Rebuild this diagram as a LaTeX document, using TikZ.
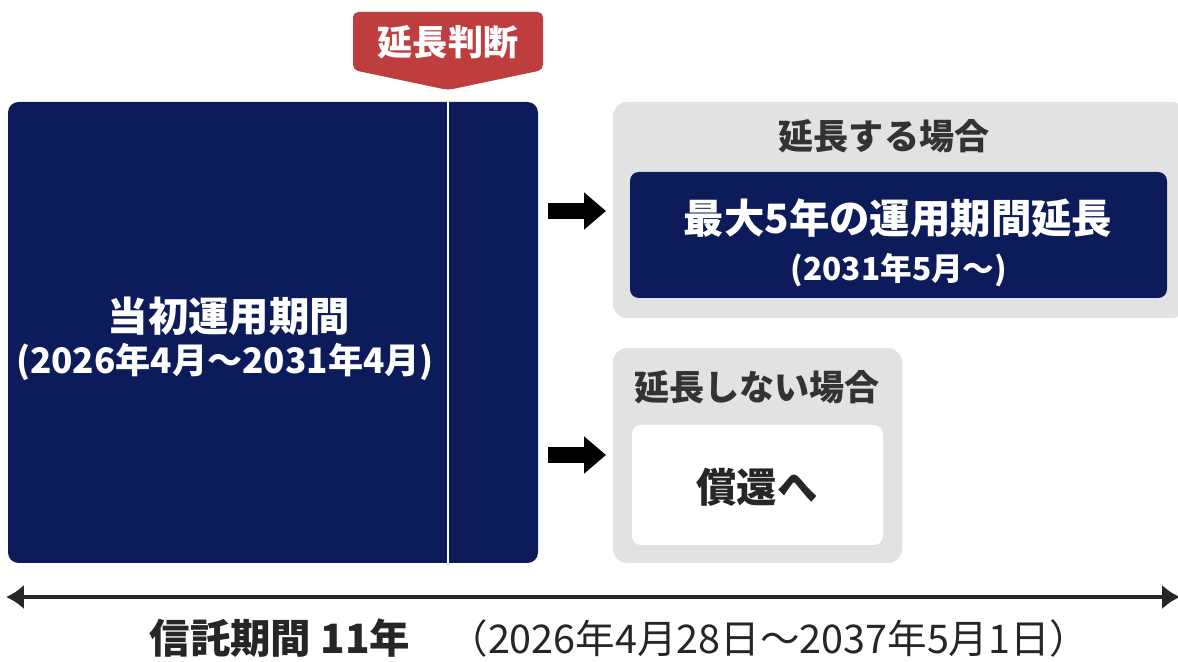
\documentclass[tikz,border=0pt]{standalone}
\usepackage{fontspec}
\setmainfont{Noto Sans CJK JP}
\usepackage{tikz}
\usetikzlibrary{arrows.meta, shapes}
\tikzset{>=latex}
\definecolor{mynavy}{RGB}{12, 28, 90}
\definecolor{myred}{RGB}{190, 62, 62}
\definecolor{mygray}{RGB}{226, 226, 228}
\tikzset{
  bigtxt/.style = {font=\bfseries\fontsize{23}{27}\selectfont},
  midtxt/.style = {font=\bfseries\fontsize{20}{24}\selectfont},
  datetxt/.style = {font=\bfseries\fontsize{18}{21}\selectfont},
  fatarrow/.style = {line width = 9pt, -{Triangle[length=0.44cm, width=0.72cm]}}
}

\begin{document}
\begin{tikzpicture}[x=0.02cm, y=-0.02cm]
\useasboundingbox (0,0) rectangle (1178,662);

% judgement banner
\fill[myred, rounded corners=3pt] (353,12) -- (543,12) -- (543,70) -- (448,90) -- (353,70) -- cycle;
\node[midtxt, text=white] (judge) at (448,42) {延長判断};

% initial period
\fill[mynavy, rounded corners=6pt] (8,102) rectangle (538,563);
\draw[white, line width = 1.5pt] (448,102) -- (448,563);
\node[bigtxt, text=white] (initial) at (229,316) {当初運用期間};
\node[datetxt, text=white, font=\bfseries\fontsize{20}{24}\selectfont] (initialdate) at (225,362) {(2026年4月～2031年4月)};

% extend case
\fill[mygray, rounded corners=8pt] (613,102) rectangle (1186,318);
\node[midtxt, text=black!80] (extend) at (884,136) {延長する場合};
\fill[mynavy, rounded corners=5pt] (630,172) rectangle (1167,298);
\node[bigtxt, text=white] (extendmax) at (898,218) {最大5年の運用期間延長};
\node[datetxt, text=white] (extenddate) at (899,270) {(2031年5月～)};

% no extend case
\fill[mygray, rounded corners=8pt] (613,348) rectangle (902,563);
\node[midtxt, text=black!80] (noextend) at (757,387) {延長しない場合};
\fill[white, rounded corners=5pt] (632,425) rectangle (883,545);
\node[bigtxt, text=black!85] (redeem) at (757,487) {償還へ};

% arrows
\coordinate (a1) at (548,211);
\coordinate (b1) at (606,211);
\coordinate (a2) at (548,455);
\coordinate (b2) at (606,455);
\draw[fatarrow] (a1) -- (b1);
\draw[fatarrow] (a2) -- (b2);

% trust period
\coordinate (left) at (6,597);
\coordinate (right) at (1180,597);
\draw[line width = 2.2pt, {Latex[length=0.36cm, width=0.5cm]}-{Latex[length=0.36cm, width=0.5cm]}, black!85] (left) -- (right);
\node[bigtxt, text=black!85] (trust) at (280,638) {信託期間 11年};
\node[font=\fontsize{22.5}{26}\selectfont, text=black!85] (trustdate) at (769,638) {（2026年4月28日～2037年5月1日）};

\end{tikzpicture}
\end{document}
